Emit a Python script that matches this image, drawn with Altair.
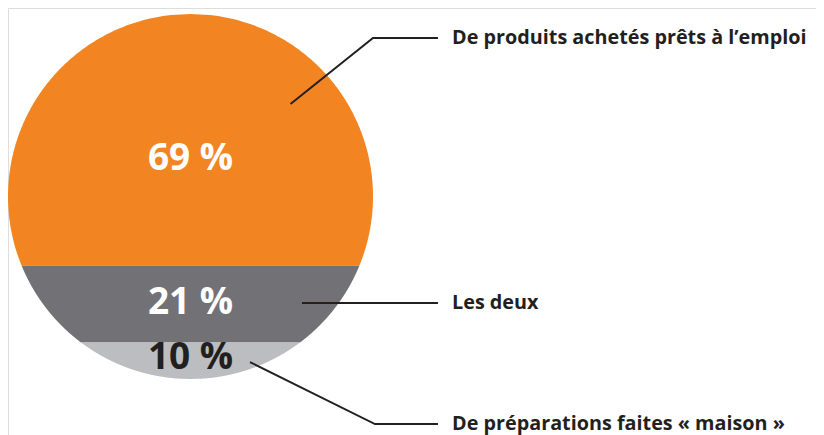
import altair as alt
import numpy as np
import pandas as pd

# ---- data ----
categories = ["De produits achetés prêts à l’emploi", "Les deux", "De préparations faites « maison »"]
shares = [69, 21, 10]
pct_labels = ["69 %", "21 %", "10 %"]
colors = ["#F28522", "#727276", "#BCBDC0"]
pct_text_colors = ["#FFFFFF", "#FFFFFF", "#231F20"]

# ---- layout (unit-circle coordinates) ----
R_PX = 182.5
CX_PX, CY_PX = 182.5, 188.5
W, H = 808, 427
x_dom = [-CX_PX / R_PX, (W - CX_PX) / R_PX]
y_dom = [(CY_PX - H) / R_PX, CY_PX / R_PX]

pct_label_v = [0.205, -0.585, -0.885]
leaders = [
    [(0.548, 0.507), (1.0, 0.868), (1.356, 0.868)],
    [(0.611, -0.584), (1.356, -0.584)],
    [(0.326, -0.907), (1.011, -1.247), (1.356, -1.247)],
]
cat_text_u = 1.433

# ---- circle slices: height-proportional horizontal bands ----
rows = []
cum = 0.0
for cat, s in zip(categories, shares):
    top = 1 - 2 * cum / 100
    cum += s
    bot = 1 - 2 * cum / 100
    for v in np.linspace(bot, top, 240):
        w = float(np.sqrt(max(0.0, 1 - v * v)))
        rows.append({"cat": cat, "v": float(v), "xl": -w, "xr": w})
slices = pd.DataFrame(rows)

xs = alt.Scale(domain=x_dom, nice=False, zero=False)
ys = alt.Scale(domain=y_dom, nice=False, zero=False)
color_scale = alt.Scale(domain=categories, range=colors)

area = alt.Chart(slices).mark_area(orient="horizontal", interpolate="linear").encode(
    y=alt.Y("v:Q", scale=ys, axis=None),
    x=alt.X("xl:Q", scale=xs, axis=None, stack=None),
    x2="xr:Q",
    color=alt.Color("cat:N", scale=color_scale, legend=None),
)

pct_df = pd.DataFrame({"label": pct_labels, "v": pct_label_v, "u": [0.0, 0.0, 0.0], "tc": pct_text_colors})
pct = alt.Chart(pct_df).mark_text(
    font="Open Sans", fontWeight="bold", fontSize=37, align="center", baseline="middle"
).encode(
    x=alt.X("u:Q", scale=xs, axis=None),
    y=alt.Y("v:Q", scale=ys, axis=None),
    text="label:N",
    color=alt.Color("tc:N", scale=None),
)

lrows = []
for i, pts in enumerate(leaders):
    for j, (u, v) in enumerate(pts):
        lrows.append({"k": i, "o": j, "u": u, "v": v})
lead_df = pd.DataFrame(lrows)
lines = alt.Chart(lead_df).mark_line(color="#231F20", strokeWidth=2).encode(
    x=alt.X("u:Q", scale=xs, axis=None),
    y=alt.Y("v:Q", scale=ys, axis=None),
    detail="k:N",
    order="o:Q",
)

cat_df = pd.DataFrame({"cat": categories, "u": [cat_text_u] * 3, "v": [p[-1][1] for p in leaders]})
cat_text = alt.Chart(cat_df).mark_text(
    font="Open Sans", fontWeight="bold", fontSize=19.8, align="left", baseline="middle", color="#231F20"
).encode(
    x=alt.X("u:Q", scale=xs, axis=None),
    y=alt.Y("v:Q", scale=ys, axis=None),
    text="cat:N",
)

chart = alt.layer(area, lines, pct, cat_text).properties(
    width=W, height=H, padding=0, autosize=alt.AutoSizeParams(type="none"),
).configure_view(stroke=None).configure(background="#FFFFFF")

chart.save("out.html", embed_options={"renderer": "svg", "actions": False})
